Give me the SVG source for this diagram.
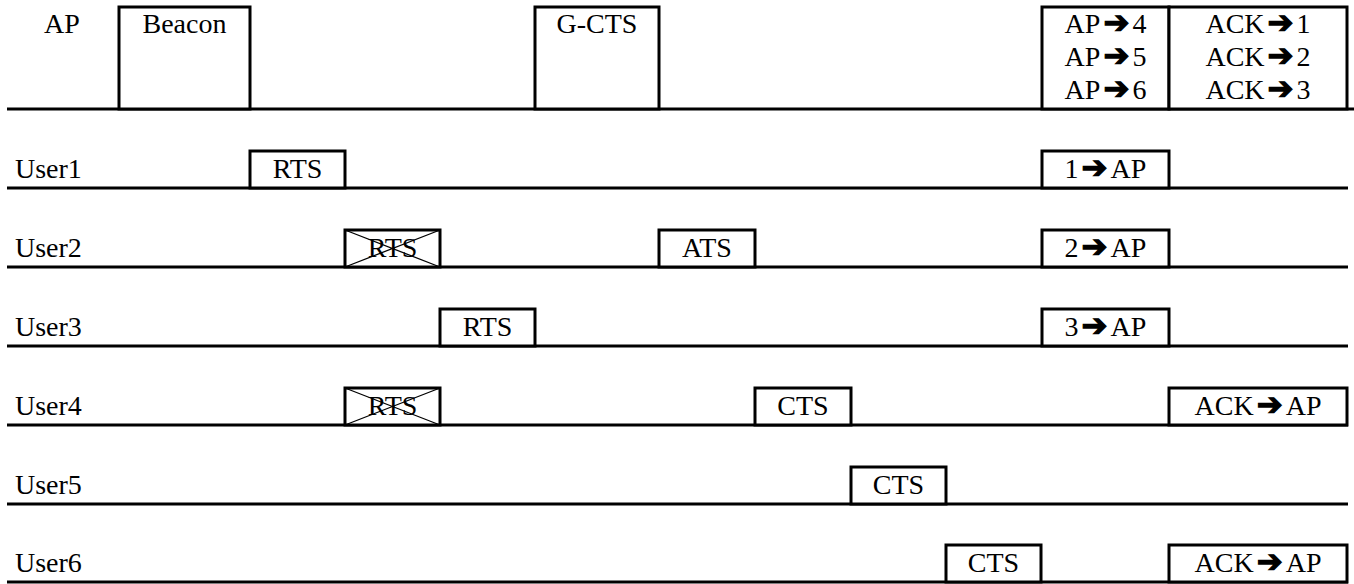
<svg xmlns="http://www.w3.org/2000/svg" width="1354" height="584" viewBox="0 0 1354 584">
<style>
.ln{stroke:#000;stroke-width:3;fill:none}
.bx{stroke:#000;stroke-width:3;fill:#fff}
.x{stroke:#000;stroke-width:1.3;fill:none}
.c{text-anchor:middle}
.ar{font-family:'DejaVu Sans',sans-serif;font-weight:bold;font-size:31px;stroke:#000;stroke-width:1.2}
</style>
<rect width="1354" height="584" fill="#fff"/>
<g id="timelines">
<path class="ln" d="M7 109H1354"/>
<path class="ln" d="M7 188H1348"/>
<path class="ln" d="M7 267H1348"/>
<path class="ln" d="M7 346H1348"/>
<path class="ln" d="M7 425H1348"/>
<path class="ln" d="M7 504H1348"/>
<path class="ln" d="M7 582H1348"/>
</g>
<g font-family="Liberation Serif, Times New Roman, serif" font-size="28" fill="#000">
<g id="labels">
<text x="44" y="33">AP</text>
<text x="15" y="178">User1</text>
<text x="15" y="257">User2</text>
<text x="15" y="336">User3</text>
<text x="15" y="415">User4</text>
<text x="15" y="494">User5</text>
<text x="15" y="572">User6</text>
</g>
<g id="ap-beacon"><rect class="bx" x="119" y="7" width="131" height="102"/><text class="c" x="184.5" y="33">Beacon</text></g>
<g id="ap-gcts"><rect class="bx" x="535" y="7" width="124" height="102"/><text class="c" x="597" y="33">G-CTS</text></g>
<g id="ap-data"><rect class="bx" x="1042" y="7" width="127" height="102"/>
<text class="c" x="1105.5" y="33">AP<tspan class="ar" dx="3">➔</tspan><tspan dx="3">4</tspan></text>
<text class="c" x="1105.5" y="66">AP<tspan class="ar" dx="3">➔</tspan><tspan dx="3">5</tspan></text>
<text class="c" x="1105.5" y="99">AP<tspan class="ar" dx="3">➔</tspan><tspan dx="3">6</tspan></text></g>
<g id="ap-ack"><rect class="bx" x="1169" y="7" width="178" height="102"/>
<text class="c" x="1258" y="33">ACK<tspan class="ar" dx="3">➔</tspan><tspan dx="3">1</tspan></text>
<text class="c" x="1258" y="66">ACK<tspan class="ar" dx="3">➔</tspan><tspan dx="3">2</tspan></text>
<text class="c" x="1258" y="99">ACK<tspan class="ar" dx="3">➔</tspan><tspan dx="3">3</tspan></text></g>
<g id="u1-rts"><rect class="bx" x="250" y="151" width="95" height="37"/><text class="c" x="297.5" y="178">RTS</text></g>
<g id="u1-data"><rect class="bx" x="1042" y="151" width="127" height="37"/><text class="c" x="1105.5" y="178">1<tspan class="ar" dx="3">➔</tspan><tspan dx="3">AP</tspan></text></g>
<g id="u2-rts"><rect class="bx" x="345" y="230" width="95" height="37"/><text class="c" x="392.5" y="257">RTS</text><path class="x" d="M345 230L440 267M440 230L345 267"/></g>
<g id="u2-ats"><rect class="bx" x="659" y="230" width="96" height="37"/><text class="c" x="707" y="257">ATS</text></g>
<g id="u2-data"><rect class="bx" x="1042" y="230" width="127" height="37"/><text class="c" x="1105.5" y="257">2<tspan class="ar" dx="3">➔</tspan><tspan dx="3">AP</tspan></text></g>
<g id="u3-rts"><rect class="bx" x="440" y="309" width="95" height="37"/><text class="c" x="487.5" y="336">RTS</text></g>
<g id="u3-data"><rect class="bx" x="1042" y="309" width="127" height="37"/><text class="c" x="1105.5" y="336">3<tspan class="ar" dx="3">➔</tspan><tspan dx="3">AP</tspan></text></g>
<g id="u4-rts"><rect class="bx" x="345" y="388" width="95" height="37"/><text class="c" x="392.5" y="415">RTS</text><path class="x" d="M345 388L440 425M440 388L345 425"/></g>
<g id="u4-cts"><rect class="bx" x="755" y="388" width="96" height="37"/><text class="c" x="803" y="415">CTS</text></g>
<g id="u4-ack"><rect class="bx" x="1169" y="388" width="178" height="37"/><text class="c" x="1258" y="415">ACK<tspan class="ar" dx="3">➔</tspan><tspan dx="3">AP</tspan></text></g>
<g id="u5-cts"><rect class="bx" x="851" y="467" width="95" height="37"/><text class="c" x="898.5" y="494">CTS</text></g>
<g id="u6-cts"><rect class="bx" x="946" y="545" width="95" height="37"/><text class="c" x="993.5" y="572">CTS</text></g>
<g id="u6-ack"><rect class="bx" x="1169" y="545" width="178" height="37"/><text class="c" x="1258" y="572">ACK<tspan class="ar" dx="3">➔</tspan><tspan dx="3">AP</tspan></text></g>
</g>
</svg>
